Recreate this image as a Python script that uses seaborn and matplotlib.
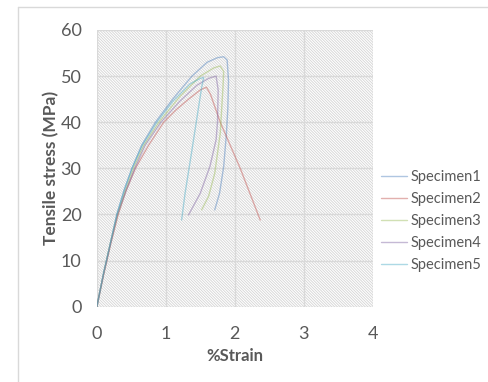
import matplotlib.pyplot as plt
import matplotlib.lines as mlines
import pandas as pd
import seaborn as sns

# stress-strain curves
s1_strain = [0, 0.1, 0.2, 0.29, 0.4, 0.51, 0.65, 0.85, 1.1, 1.38, 1.6, 1.75, 1.84, 1.89, 1.91, 1.9, 1.88, 1.84, 1.78, 1.71]
s1_stress = [0, 7.5, 14, 20, 25.5, 30, 35, 40, 45, 50, 53, 54, 54.2, 53.5, 49, 43, 37.6, 30.4, 24.6, 21]

s2_strain = [0, 0.1, 0.2, 0.31, 0.42, 0.56, 0.75, 0.97, 1.15, 1.33, 1.5, 1.59, 1.65, 1.79, 2.08, 2.37]
s2_stress = [0, 7, 13.5, 20, 25, 30, 35, 40, 42.7, 45, 47, 47.6, 46, 40, 30, 18.8]

s3_strain = [0, 0.1, 0.2, 0.3, 0.41, 0.53, 0.68, 0.9, 1.2, 1.5, 1.7, 1.79, 1.84, 1.83, 1.79, 1.71, 1.62, 1.52]
s3_stress = [0, 7.3, 14, 20, 25, 30, 35, 40, 45.5, 50, 51.8, 52.2, 51, 47.7, 37.6, 28.9, 23.9, 21]

s4_strain = [0, 0.1, 0.2, 0.3, 0.42, 0.55, 0.7, 0.93, 1.2, 1.45, 1.62, 1.73, 1.76, 1.75, 1.73, 1.64, 1.5, 1.33]
s4_stress = [0, 7.2, 13.8, 20, 25, 30, 35, 40, 44.5, 48, 49.5, 50, 47, 40, 36.2, 30.4, 24.6, 19.9]

s5_strain = [0, 0.1, 0.2, 0.29, 0.4, 0.51, 0.66, 0.87, 1.1, 1.35, 1.5, 1.55, 1.52, 1.47, 1.38, 1.28, 1.23]
s5_stress = [0, 7.4, 14, 20, 25.3, 30, 35, 40, 44.5, 48.3, 49.5, 49.7, 47.5, 42.7, 34, 24.6, 18.8]

names = ["Specimen1", "Specimen2", "Specimen3", "Specimen4", "Specimen5"]
colors = ["#4F81BD", "#C0504D", "#9BBB59", "#8064A2", "#4BACC6"]

curves = [
    (s1_strain, s1_stress),
    (s2_strain, s2_stress),
    (s3_strain, s3_stress),
    (s4_strain, s4_stress),
    (s5_strain, s5_stress),
]
rows = []
for name, (xs, ys) in zip(names, curves):
    for i, (x, y) in enumerate(zip(xs, ys)):
        rows.append({"specimen": name, "order": i, "strain": x, "stress": y})
df = pd.DataFrame(rows)

sns.set_theme(style="white")
plt.rcParams["font.family"] = ["Lato", "DejaVu Sans"]
plt.rcParams["hatch.color"] = "#d4d4d4"
plt.rcParams["hatch.linewidth"] = 0.6

fig = plt.figure(figsize=(4.89, 3.82), dpi=100)
ax = fig.add_axes([0.198, 0.197, 0.564, 0.7245])

ax.patch.set_hatch("\\\\\\\\\\\\\\\\\\\\\\\\")
ax.patch.set_edgecolor("#d4d4d4")
ax.patch.set_facecolor("white")

sns.lineplot(
    ax=ax,
    data=df,
    x="strain",
    y="stress",
    hue="specimen",
    palette=colors,
    sort=False,
    estimator=None,
    units="specimen",
    linewidth=1.0,
    alpha=0.45,
)

ax.set_xlim(0, 4)
ax.set_ylim(0, 60)
ax.set_xticks([0, 1, 2, 3, 4])
ax.set_yticks([0, 10, 20, 30, 40, 50, 60])
ax.grid(True, color="#d9d9d9", linewidth=1.0)
ax.set_axisbelow(True)
for sp in ax.spines.values():
    sp.set_visible(False)
ax.tick_params(axis="both", length=0, labelsize=13, colors="#595959")
ax.tick_params(axis="x", pad=14)
ax.tick_params(axis="y", pad=11)

ax.set_xlabel("%Strain", fontsize=12, fontweight="bold", color="#595959", labelpad=4)
ax.set_ylabel("Tensile stress (MPa)", fontsize=12.5, fontweight="bold", color="#595959", labelpad=1)

leg = ax.legend(
    loc="center left",
    bbox_to_anchor=(1.0, 0.31),
    frameon=False,
    fontsize=10.5,
    handlelength=1.75,
    handletextpad=0.25,
    labelspacing=0.55,
    borderaxespad=0.2,
    labelcolor="#595959",
)
for h in leg.get_lines():
    h.set_linewidth(1.0)

# what is left of the chart border
fig.add_artist(mlines.Line2D([18 / 489, 1], [1 - 7 / 382, 1 - 7 / 382], transform=fig.transFigure, color="#d9d9d9", linewidth=1))
fig.add_artist(mlines.Line2D([18 / 489, 18 / 489], [0, 1 - 7 / 382], transform=fig.transFigure, color="#d9d9d9", linewidth=1))

fig.savefig("out.png", dpi=100)
